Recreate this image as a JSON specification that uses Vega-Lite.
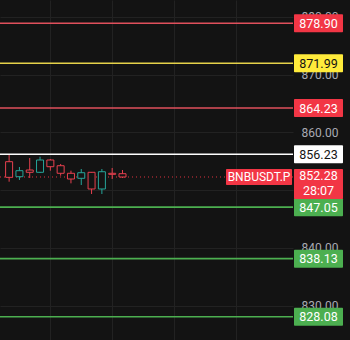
{
  "$schema": "https://vega.github.io/schema/vega-lite/v6.json",
  "width": 293,
  "height": 340,
  "autosize": "none",
  "padding": {"left": 0, "top": 0, "right": 57, "bottom": 0},
  "background": "#131313",
  "config": {"view": {"stroke": null}, "font": "Roboto"},
  "datasets": {
    "candles": [
      {"i": 1, "open": 854.93, "high": 856.09, "low": 851.46, "close": 852.22},
      {"i": 2, "open": 852.33, "high": 854.01, "low": 851.76, "close": 853.37},
      {"i": 3, "open": 853.49, "high": 855.57, "low": 852.10, "close": 853.09},
      {"i": 4, "open": 853.09, "high": 855.79, "low": 852.97, "close": 855.22},
      {"i": 5, "open": 855.22, "high": 855.40, "low": 853.37, "close": 854.06},
      {"i": 6, "open": 854.23, "high": 854.53, "low": 852.50, "close": 852.92},
      {"i": 7, "open": 852.92, "high": 853.37, "low": 851.18, "close": 851.93},
      {"i": 8, "open": 852.05, "high": 853.66, "low": 850.89, "close": 853.02},
      {"i": 9, "open": 853.09, "high": 853.14, "low": 849.33, "close": 850.20},
      {"i": 10, "open": 850.20, "high": 853.66, "low": 849.33, "close": 853.19},
      {"i": 11, "open": 852.92, "high": 853.84, "low": 851.93, "close": 852.74},
      {"i": 12, "open": 852.85, "high": 853.49, "low": 852.10, "close": 852.28}
    ],
    "levels": [
      {"price": 878.90, "label": "878.90", "kind": "resistance"},
      {"price": 871.99, "label": "871.99", "kind": "pivot"},
      {"price": 864.23, "label": "864.23", "kind": "resistance"},
      {"price": 856.23, "label": "856.23", "kind": "reference"},
      {"price": 847.05, "label": "847.05", "kind": "support"},
      {"price": 838.13, "label": "838.13", "kind": "support"},
      {"price": 828.08, "label": "828.08", "kind": "support"}
    ],
    "current": [
      {"price": 852.28, "label": "852.28\n28:07", "symbol": "BNBUSDT.P"}
    ]
  },
  "layer": [
    {
      "data": {"name": "current"},
      "mark": {"type": "rule", "color": "#f23645", "strokeDash": [1, 3], "strokeWidth": 1, "opacity": 0.9},
      "encoding": {
        "y": {
          "field": "price", "type": "quantitative",
          "scale": {"domain": [824.04, 882.94], "nice": false, "zero": false},
          "axis": {
            "orient": "right", "title": null, "grid": true, "gridColor": "#222222",
            "values": [830, 840, 850, 860, 870, 880], "format": ".2f",
            "labelColor": "#a9abb3", "labelFontSize": 12, "labelPadding": 8,
            "labelAlign": "left", "labelBaseline": "middle",
            "ticks": false, "domain": false
          }
        }
      }
    },
    {
      "data": {"name": "levels"},
      "mark": {"type": "rule", "strokeWidth": 1.6},
      "encoding": {
        "y": {"field": "price", "type": "quantitative"},
        "color": {
          "field": "kind", "type": "nominal", "legend": null,
          "scale": {"domain": ["resistance", "pivot", "reference", "support"], "range": ["#e0505c", "#e6d24a", "#ffffff", "#4caf50"]}
        }
      }
    },
    {
      "data": {"name": "candles"},
      "mark": {"type": "rule", "strokeWidth": 1},
      "encoding": {
        "x": {
          "field": "i", "type": "quantitative",
          "scale": {"domain": [0.6, 28.06], "nice": false, "zero": false},
          "axis": {"values": [5, 11, 17, 23], "grid": true, "gridColor": "#222222", "labels": false, "ticks": false, "domain": false, "title": null}
        },
        "y": {"field": "low", "type": "quantitative"},
        "y2": {"field": "high"},
        "color": {"condition": {"test": "datum.close >= datum.open", "value": "#26a69a"}, "value": "#e8404f"}
      }
    },
    {
      "data": {"name": "candles"},
      "mark": {"type": "bar", "width": 7, "fill": "#131313", "strokeWidth": 1},
      "encoding": {
        "x": {"field": "i", "type": "quantitative"},
        "y": {"field": "open", "type": "quantitative"},
        "y2": {"field": "close"},
        "stroke": {"condition": {"test": "datum.close >= datum.open", "value": "#26a69a"}, "value": "#e8404f"}
      }
    },
    {
      "data": {"name": "levels"},
      "mark": {"type": "rect", "x": {"expr": "width + 1"}, "x2": {"expr": "width + 50"}, "yOffset": -9, "y2Offset": 9, "cornerRadius": 1},
      "encoding": {
        "y": {"field": "price", "type": "quantitative"},
        "y2": {"field": "price"},
        "fill": {"field": "kind", "type": "nominal", "legend": null, "scale": {"domain": ["resistance", "pivot", "reference", "support"], "range": ["#f23645", "#ffeb3b", "#ffffff", "#4caf50"]}}
      }
    },
    {
      "data": {"name": "levels"},
      "mark": {"type": "text", "x": {"expr": "width + 25.5"}, "align": "center", "baseline": "middle", "fontSize": 12.5, "dy": 0.5},
      "encoding": {
        "y": {"field": "price", "type": "quantitative"},
        "text": {"field": "label"},
        "color": {"condition": {"test": "datum.kind === 'pivot' || datum.kind === 'reference'", "value": "#131313"}, "value": "#ffffff"}
      }
    },
    {
      "data": {"name": "current"},
      "mark": {"type": "rect", "color": "#f23645", "x": {"expr": "width - 67"}, "x2": {"expr": "width - 1"}, "yOffset": -8, "y2Offset": 8, "cornerRadius": 1},
      "encoding": {
        "y": {"field": "price", "type": "quantitative"},
        "y2": {"field": "price"}
      }
    },
    {
      "data": {"name": "current"},
      "mark": {"type": "rect", "color": "#f23645", "x": {"expr": "width + 1"}, "x2": {"expr": "width + 50"}, "yOffset": -8, "y2Offset": 22, "cornerRadius": 1},
      "encoding": {
        "y": {"field": "price", "type": "quantitative"},
        "y2": {"field": "price"}
      }
    },
    {
      "data": {"name": "current"},
      "mark": {"type": "text", "color": "#ffffff", "x": {"expr": "width - 34"}, "align": "center", "baseline": "middle", "fontSize": 12, "dy": 0.5},
      "encoding": {
        "y": {"field": "price", "type": "quantitative"},
        "text": {"field": "symbol"}
      }
    },
    {
      "data": {"name": "current"},
      "mark": {"type": "text", "color": "#ffffff", "x": {"expr": "width + 25.5"}, "align": "center", "baseline": "top", "lineBreak": "\n", "lineHeight": 15, "fontSize": 12.5, "dy": -7},
      "encoding": {
        "y": {"field": "price", "type": "quantitative"},
        "text": {"field": "label"}
      }
    }
  ]
}
